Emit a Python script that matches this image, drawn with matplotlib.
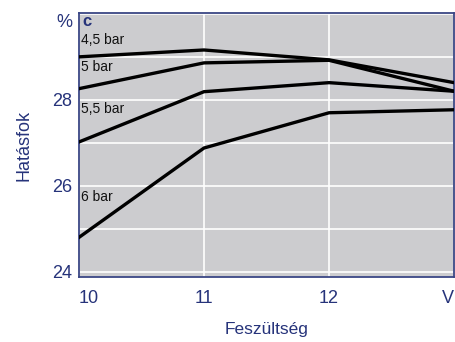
import matplotlib.pyplot as plt

plt.rcParams['font.family'] = ['Liberation Sans', 'DejaVu Sans']

# data
voltage = [10, 11, 12, 13]
eff_45 = [29.0, 29.16, 28.93, 28.4]
eff_50 = [28.26, 28.86, 28.92, 28.2]
eff_55 = [27.02, 28.19, 28.4, 28.2]
eff_60 = [24.8, 26.88, 27.7, 27.77]
series = [eff_45, eff_50, eff_55, eff_60]
labels = ['4,5 bar', '5 bar', '5,5 bar', '6 bar']
label_y = [29.24, 28.6, 27.63, 25.58]

xtick_labels = ['10', '11', '12', 'V']
ytick_vals = [24, 26, 28, 30]
ytick_labels = ['24', '26', '28', '%']

navy = '#26337a'

fig = plt.figure(figsize=(4.56, 3.42), dpi=100)
ax = fig.add_axes([0.173, 0.19, 0.823, 0.772])
ax.set_facecolor('#cccccf')

for vals in series:
    ax.plot(voltage, vals, color='black', lw=2.4, solid_joinstyle='miter', zorder=3)

for lab, y in zip(labels, label_y):
    ax.text(10.02, y, lab, fontsize=10, color='#111111', va='bottom', ha='left', zorder=4)

ax.text(10.03, 29.99, 'c', fontsize=12, fontweight='bold', color=navy, va='top', ha='left')

ax.set_xlim(10, 12.976)
ax.set_ylim(23.88, 30.02)

ax.set_xticks(voltage)
ax.set_xticklabels(xtick_labels)
ax.set_yticks(ytick_vals)
ax.set_yticklabels(ytick_labels)
ax.set_yticks([25, 27, 29], minor=True)
ax.grid(True, which='both', color='white', lw=1.2, zorder=1)
ax.set_axisbelow(True)

ax.tick_params(axis='both', which='both', length=0, colors=navy, labelsize=13)
ax.tick_params(axis='x', pad=9)
ax.tick_params(axis='y', pad=5)
xl = ax.get_xticklabels()
xl[0].set_ha('left')
xl[-1].set_ha('right')
ax.get_yticklabels()[-1].set_va('top')

for sp in ax.spines.values():
    sp.set_color('#3a4685')
    sp.set_linewidth(1.3)

ax.set_xlabel('Feszültség', fontsize=12.5, color=navy, labelpad=11)
ax.set_ylabel('Hatásfok', fontsize=13, color=navy, labelpad=14)

fig.savefig('out.png', dpi=100)
